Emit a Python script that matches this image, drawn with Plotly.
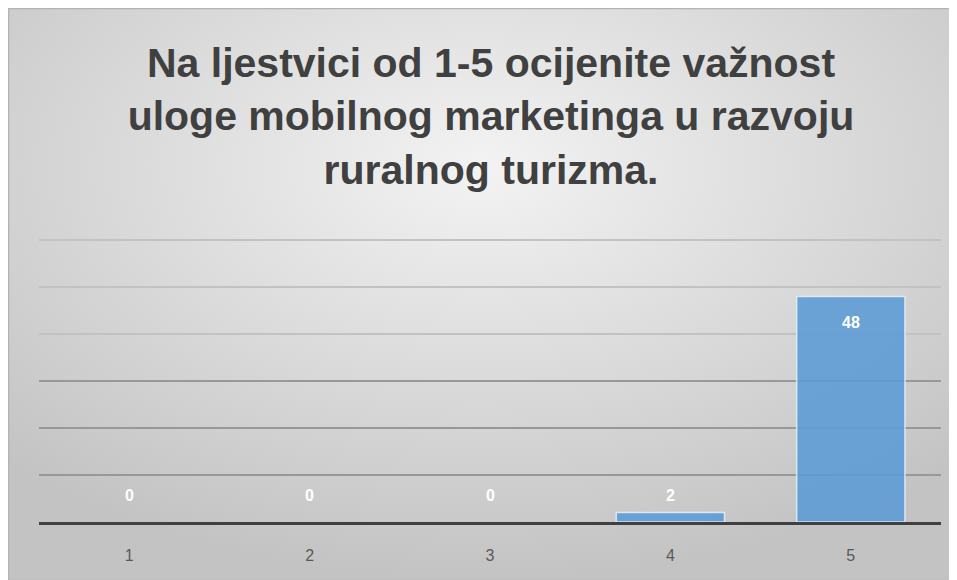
import base64
import plotly.graph_objects as go

categories = ["1", "2", "3", "4", "5"]
values = [0, 0, 0, 2, 48]
grid_dark = [10, 20, 30]
grid_light = [40, 50, 60]
title_text = "Na ljestvici od 1-5 ocijenite važnost<br>uloge mobilnog marketinga u razvoju<br>ruralnog turizma."

W, H = 949, 572
ML, MR, MT, MB = 31, 16, 218, 58
PW, PH = W - ML - MR, H - MT - MB

svg = f'''<svg xmlns="http://www.w3.org/2000/svg" width="{W}" height="{H}" viewBox="0 0 {W} {H}">
<defs><radialGradient id="g" cx="50%" cy="28%" r="72%">
<stop offset="0%" stop-color="#f3f3f3"/><stop offset="100%" stop-color="#c3c3c3"/></radialGradient></defs>
<rect x="0" y="0" width="{W}" height="{H}" fill="url(#g)"/>
<rect x="0.5" y="0.5" width="{W}" height="{H}" fill="none" stroke="#b3b3b3" stroke-width="1.5"/>
</svg>'''
src = "data:image/svg+xml;base64," + base64.b64encode(svg.encode()).decode()

fig = go.Figure()
fig.add_trace(go.Bar(
    x=categories, y=values,
    marker=dict(color="rgba(91,155,213,0.88)",
                line=dict(color="rgba(235,242,250,0.8)", width=[1.5 if v > 0 else 0 for v in values])),
    hoverinfo="skip",
))

label_font = dict(color="white", size=16, family="Liberation Sans")
annotations = []
for i, v in enumerate(values):
    if v > 10:
        annotations.append(dict(x=i, y=v, xref="x", yref="y", text=f"<b>{v}</b>", showarrow=False,
                                yanchor="top", yshift=-16, font=label_font))
    else:
        annotations.append(dict(x=i, y=0, xref="x", yref="y", text=f"<b>{v}</b>", showarrow=False,
                                yanchor="bottom", yshift=16, font=label_font))

fig.update_layout(
    width=W, height=H,
    margin=dict(l=ML, r=MR, t=MT, b=MB),
    paper_bgcolor="white", plot_bgcolor="rgba(0,0,0,0)",
    showlegend=False,
    bargap=0.4,
    title=dict(text=f"<b>{title_text}</b>", x=483 / W, xref="container", xanchor="center",
               y=1 - 69 / H, yref="container", yanchor="top",
               font=dict(family="Liberation Sans, Arial", size=41, color="#404040")),
    xaxis=dict(showline=True, linecolor="#404040", linewidth=3, ticks="outside", ticklen=17,
               tickcolor="rgba(0,0,0,0)", tickfont=dict(family="Liberation Sans", size=16, color="#595959"),
               showgrid=False, zeroline=False, range=[-0.5, 4.5]),
    yaxis=dict(range=[0, 63], tickmode="array", tickvals=grid_dark, showgrid=True,
               gridcolor="#989898", gridwidth=2, showticklabels=False, zeroline=False, ticks="",
               minor=dict(tickmode="array", tickvals=grid_light, showgrid=True,
                          gridcolor="#c2c2c2", gridwidth=2, ticks="")),
    annotations=annotations,
    images=[dict(source=src, xref="paper", yref="paper",
                 x=-ML / PW, y=(H - MB) / PH, sizex=W / PW, sizey=H / PH,
                 xanchor="left", yanchor="top", sizing="stretch", layer="below")],
)

fig.write_html("out.html")
